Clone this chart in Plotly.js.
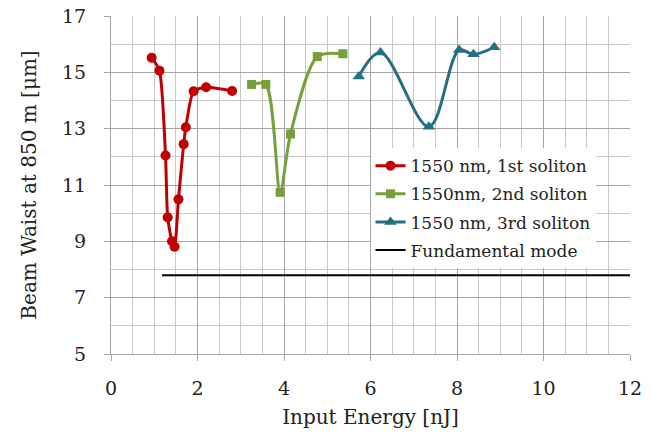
<!DOCTYPE html>
<html>
<head>
<meta charset="utf-8">
<script src="https://cdn.plot.ly/plotly-3.0.1.min.js"></script>
<style>html,body{margin:0;padding:0;background:#fff;}#chart{width:659px;height:440px;}</style>
</head>
<body>
<div id="chart"></div>
<script>
const s1Name = "1550 nm, 1st soliton";
const s1X = [0.94, 1.12, 1.26, 1.31, 1.41, 1.47, 1.56, 1.68, 1.73, 1.91, 2.20, 2.80];
const s1Y = [15.52, 15.06, 12.05, 9.85, 9.00, 8.81, 10.49, 12.45, 13.05, 14.33, 14.47, 14.34];

const s2Name = "1550nm, 2nd soliton";
const s2X = [3.25, 3.58, 3.91, 4.15, 4.77, 5.36];
const s2Y = [14.57, 14.57, 10.74, 12.81, 15.56, 15.66];

const s3Name = "1550 nm, 3rd soliton";
const s3X = [5.73, 6.23, 7.35, 8.05, 8.38, 8.86];
const s3Y = [14.85, 15.70, 13.07, 15.79, 15.64, 15.89];

const fundName = "Fundamental mode";
const fundX = [1.18, 12];
const fundY = [7.8, 7.8];

const font = "'DejaVu Serif', serif";

const traces = [
  {x: s1X, y: s1Y, name: s1Name, mode: "lines+markers", legendgroup: "a",
   line: {color: "#c00000", width: 3, shape: "spline", smoothing: 0.6},
   marker: {symbol: "circle", size: 10, color: "#c00000"}},
  {x: s2X, y: s2Y, name: s2Name, mode: "lines+markers", legendgroup: "b",
   line: {color: "#77a03c", width: 3, shape: "spline", smoothing: 0.8},
   marker: {symbol: "square", size: 9, color: "#77a03c"}},
  {x: s3X, y: s3Y, name: s3Name, mode: "lines+markers", legendgroup: "c",
   line: {color: "#246f81", width: 3, shape: "spline", smoothing: 1},
   marker: {symbol: "triangle-up", size: 11, color: "#246f81"}},
  {x: fundX, y: fundY, name: fundName, mode: "lines", legendgroup: "d",
   line: {color: "#000000", width: 2}}
];

const layout = {
  width: 659, height: 440,
  margin: {l: 111, r: 29, t: 16, b: 86},
  paper_bgcolor: "#fff", plot_bgcolor: "#fff",
  font: {family: font, color: "#222", size: 17},
  showlegend: true,
  legend: {x: 0.5, y: 0.609, xanchor: "left", yanchor: "top",
           bgcolor: "#ffffff", font: {family: font, size: 17, color: "#222"},
           tracegroupgap: 3, itemwidth: 30},
  xaxis: {range: [0, 12], dtick: 2, tick0: 0,
          showgrid: true, gridcolor: "#a6a6a6", gridwidth: 1,
          minor: {dtick: 0.5, showgrid: true, gridcolor: "#c8c8c8", gridwidth: 1},
          showline: true, linecolor: "#a6a6a6", linewidth: 1,
          ticks: "outside", ticklen: 6, tickcolor: "#a6a6a6",
          ticklabelstandoff: 11,
          zeroline: false,
          tickfont: {family: font, size: 19, color: "#222"},
          title: {text: "Input Energy [nJ]", font: {family: font, size: 20, color: "#222"}, standoff: 12}},
  yaxis: {range: [5, 17], dtick: 2, tick0: 5,
          showgrid: true, gridcolor: "#a6a6a6", gridwidth: 1,
          minor: {dtick: 1, showgrid: true, gridcolor: "#c8c8c8", gridwidth: 1},
          showline: true, linecolor: "#a6a6a6", linewidth: 1,
          ticks: "outside", ticklen: 6, tickcolor: "#a6a6a6",
          ticklabelstandoff: 14,
          zeroline: false,
          tickfont: {family: font, size: 19, color: "#222"},
          title: {text: "Beam Waist at 850 m [μm]", font: {family: font, size: 20, color: "#222"}, standoff: 20}}
};

Plotly.newPlot("chart", traces, layout, {displayModeBar: false, staticPlot: true});
</script>
</body>
</html>
